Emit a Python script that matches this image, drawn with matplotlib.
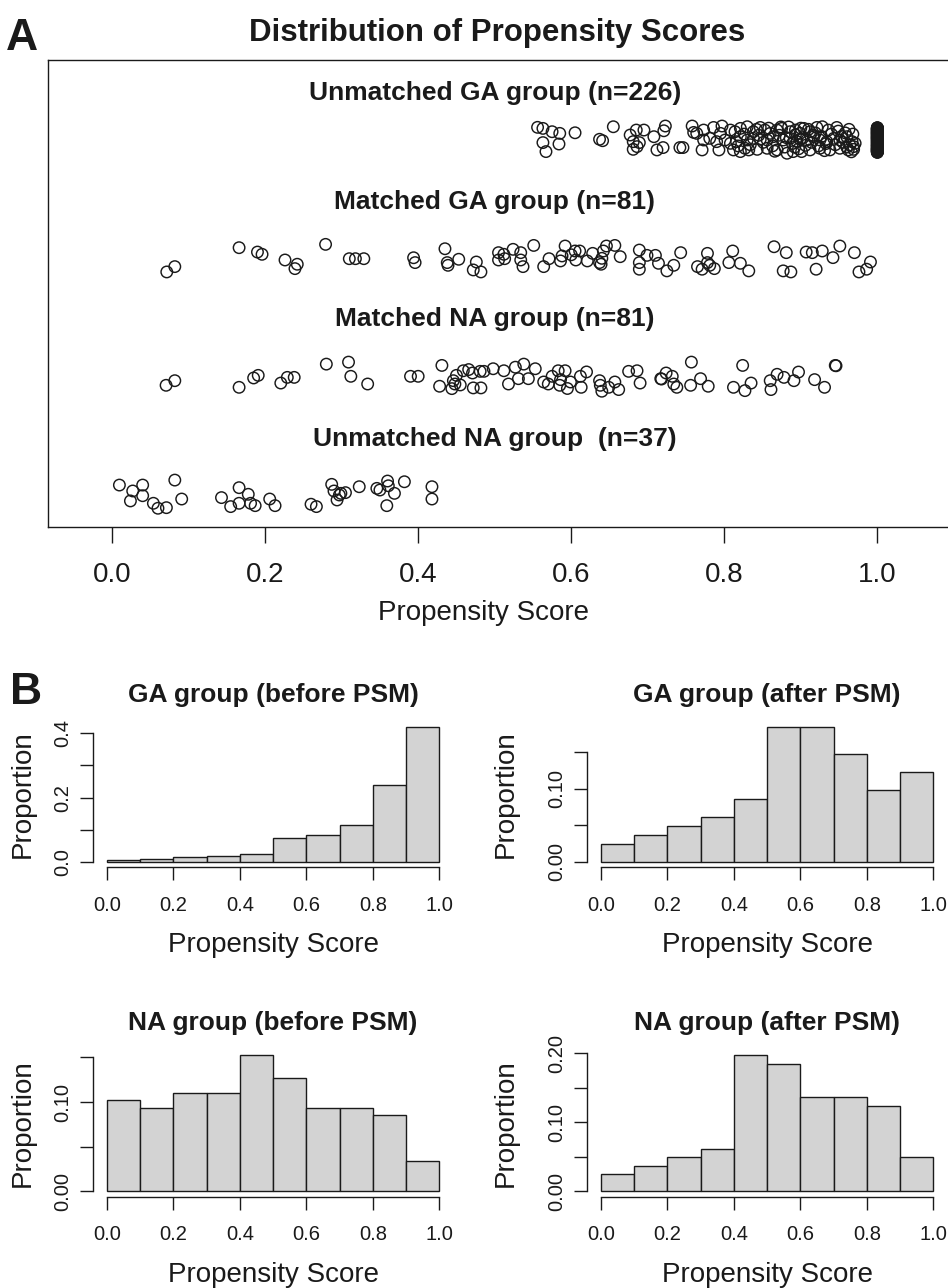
import matplotlib.pyplot as plt
import numpy as np

plt.rcParams['font.family'] = ['Liberation Sans', 'DejaVu Sans']

# ---- panel A: jittered propensity scores (x = score, jit = vertical jitter) ----
ga_unm_x = [0.556, 0.563, 0.575, 0.585, 0.605, 0.563, 0.584, 0.567, 0.637, 0.641,
            0.655, 0.677, 0.685, 0.695, 0.681, 0.686, 0.689, 0.681, 0.708, 0.723,
            0.721, 0.712, 0.720, 0.742, 0.746, 0.758, 0.760, 0.764, 0.773, 0.786,
            0.797, 0.795, 0.771, 0.793, 0.773, 0.781, 0.790, 0.801, 0.808, 0.816,
            0.808, 0.814, 0.821, 0.830, 0.838, 0.847, 0.853, 0.860, 0.869, 0.875,
            0.886, 0.893, 0.899, 0.904, 0.912, 0.921, 0.928, 0.936, 0.947, 0.960,
            0.967, 0.969, 0.812, 0.821, 0.832, 0.843, 0.856, 0.869, 0.882, 0.890,
            0.901, 0.912, 0.925, 0.938, 0.951, 0.962, 0.821, 0.830, 0.838, 0.847,
            0.856, 0.864, 0.877, 0.886, 0.895, 0.899, 0.908, 0.917, 0.925, 0.934,
            0.943, 0.951, 0.964, 0.969, 0.971, 0.826, 0.834, 0.842, 0.851, 0.858,
            0.863, 0.872, 0.879, 0.884, 0.889, 0.893, 0.897, 0.903, 0.906, 0.910,
            0.914, 0.919, 0.923, 0.927, 0.931, 0.940, 0.945, 0.949, 0.955, 0.958,
            0.963, 0.966, 0.818, 0.827, 0.845, 0.866, 0.874, 0.881, 0.892, 0.900,
            0.916, 0.933, 0.953, 0.960, 0.968]
ga_unm_jit = [0.107, 0.098, 0.070, 0.056, 0.061, -0.022, -0.034, -0.098, 0.006, -0.006,
              0.112, 0.042, 0.084, 0.084, -0.014, -0.056, -0.022, -0.079, 0.028, 0.118,
              0.078, -0.084, -0.064, -0.064, -0.064, 0.118, 0.064, 0.056, 0.084, 0.106,
              0.118, 0.056, -0.084, -0.084, 0.000, 0.014, -0.014, 0.000, -0.028, -0.014,
              0.084, 0.070, 0.098, 0.112, 0.070, 0.106, 0.084, 0.056, 0.084, 0.098,
              0.070, 0.084, 0.056, 0.098, 0.070, 0.106, 0.112, 0.084, 0.106, 0.028,
              -0.014, -0.056, -0.084, -0.098, -0.084, -0.079, -0.070, -0.084, -0.112, -0.098,
              -0.098, -0.084, -0.070, -0.084, -0.070, -0.084, 0.028, 0.000, 0.014, 0.006,
              0.000, 0.028, 0.000, 0.014, -0.014, 0.006, 0.000, 0.028, 0.000, -0.014,
              0.014, 0.000, -0.042, -0.079, -0.028, 0.050, -0.040, 0.090, -0.020, 0.100,
              -0.050, 0.040, -0.060, 0.110, -0.030, 0.045, -0.075, 0.020, -0.045, 0.090,
              -0.020, 0.060, -0.050, 0.030, -0.090, 0.050, -0.040, 0.075, -0.020, 0.060,
              0.090, -0.100, -0.050, -0.070, 0.040, -0.095, 0.110, 0.020, -0.060, 0.100,
              0.040, -0.030, 0.030, -0.060, 0.050]
# unmatched GA units with a score of 1.0 (the solid bar)
ga_one_jit = [0.102, -0.087, 0.045, -0.012, 0.071, -0.064, 0.018, -0.098, 0.089, -0.031,
              0.056, -0.076, 0.004, 0.095, -0.049, 0.033, -0.105, 0.066, -0.021, 0.081,
              -0.058, 0.012, -0.092, 0.047, -0.003, 0.099, -0.069, 0.025, -0.040, 0.076,
              -0.083, 0.039, -0.016, 0.061, -0.101, 0.008, 0.087, -0.053, 0.029, -0.074,
              0.052, -0.027, 0.093, -0.095, 0.015, -0.045, 0.068, -0.008, 0.104, -0.061,
              0.036, -0.080, 0.021, -0.035, 0.079, -0.089, 0.042, -0.019, 0.058, -0.102,
              0.001, 0.084, -0.050, 0.031, -0.071, 0.049, -0.024, 0.097, -0.093, 0.011,
              -0.042, 0.073, -0.006, 0.091, -0.066, 0.027, -0.078, 0.063, -0.029, 0.054,
              -0.085, 0.006, -0.038, 0.082, -0.097, 0.040, -0.014, 0.070, -0.056, 0.023,
              -0.072, 0.101, -0.047, 0.017, -0.081, 0.059, -0.002]

ga_mat_x = [0.0715, 0.082, 0.166, 0.190, 0.196, 0.226, 0.242, 0.239, 0.279, 0.310,
            0.318, 0.329, 0.394, 0.396, 0.435, 0.438, 0.439, 0.453, 0.472, 0.482,
            0.476, 0.505, 0.505, 0.512, 0.513, 0.524, 0.534, 0.534, 0.537, 0.551,
            0.564, 0.571, 0.586, 0.588, 0.592, 0.605, 0.606, 0.611, 0.621, 0.628,
            0.637, 0.639, 0.642, 0.646, 0.657, 0.664, 0.689, 0.689, 0.689, 0.699,
            0.710, 0.714, 0.725, 0.734, 0.743, 0.765, 0.771, 0.778, 0.778, 0.781,
            0.787, 0.806, 0.811, 0.821, 0.832, 0.865, 0.881, 0.877, 0.887, 0.907,
            0.915, 0.920, 0.928, 0.942, 0.951, 0.970, 0.976, 0.986, 0.991, 0.640,
            0.600]
ga_mat_jit = [-0.115, -0.070, 0.090, 0.053, 0.034, -0.014, -0.050, -0.087, 0.118, -0.003,
              -0.003, -0.003, 0.005, -0.036, 0.081, -0.036, -0.059, -0.008, -0.098, -0.115,
              -0.031, 0.048, -0.014, 0.034, -0.003, 0.076, 0.048, -0.014, -0.070, 0.109,
              -0.070, -0.003, -0.022, 0.020, 0.104, 0.062, -0.014, 0.062, -0.022, 0.042,
              -0.036, -0.050, 0.062, 0.104, 0.109, 0.014, 0.070, -0.036, -0.092, 0.025,
              0.025, -0.042, -0.106, -0.059, 0.048, -0.070, -0.092, 0.042, -0.036, -0.059,
              -0.087, -0.036, 0.062, -0.042, -0.106, 0.098, 0.048, -0.106, -0.115, 0.053,
              0.048, -0.092, 0.062, 0.006, 0.104, 0.048, -0.115, -0.092, -0.031, 0.000,
              0.030]

na_mat_x = [0.0706, 0.082, 0.166, 0.185, 0.191, 0.2205, 0.229, 0.238, 0.280, 0.309,
            0.312, 0.334, 0.390, 0.400, 0.431, 0.428, 0.444, 0.446, 0.450, 0.448,
            0.459, 0.471, 0.472, 0.482, 0.481, 0.486, 0.498, 0.512, 0.518, 0.531,
            0.538, 0.544, 0.553, 0.564, 0.570, 0.575, 0.583, 0.586, 0.585, 0.592,
            0.599, 0.612, 0.613, 0.637, 0.638, 0.640, 0.649, 0.657, 0.662, 0.675,
            0.686, 0.690, 0.717, 0.718, 0.724, 0.732, 0.734, 0.738, 0.757, 0.756,
            0.769, 0.779, 0.812, 0.824, 0.827, 0.835, 0.860, 0.861, 0.869, 0.878,
            0.891, 0.897, 0.918, 0.931, 0.945, 0.946, 0.455, 0.466, 0.527, 0.620,
            0.595]
na_mat_jit = [-0.073, -0.034, -0.090, -0.011, 0.011, -0.054, -0.006, -0.006, 0.106, 0.123,
              0.003, -0.062, 0.003, 0.003, 0.095, -0.081, -0.101, -0.034, 0.011, -0.062,
              0.050, 0.031, -0.095, -0.095, 0.045, 0.045, 0.067, 0.050, -0.062, -0.017,
              0.106, -0.017, 0.067, -0.045, -0.062, 0.003, 0.050, -0.025, -0.073, 0.050,
              -0.045, 0.003, -0.090, -0.034, -0.073, -0.123, -0.090, -0.045, -0.109, 0.045,
              0.050, -0.054, -0.017, -0.020, 0.031, 0.003, -0.062, -0.090, 0.123, -0.073,
              -0.017, -0.081, -0.090, 0.095, -0.118, -0.054, -0.034, -0.109, 0.020, -0.006,
              -0.034, 0.039, -0.025, -0.090, 0.095, 0.092, -0.070, 0.060, 0.080, 0.040,
              -0.100]

na_unm_x = [0.0096, 0.027, 0.024, 0.040, 0.040, 0.054, 0.060, 0.071, 0.082, 0.091,
            0.143, 0.155, 0.166, 0.166, 0.178, 0.181, 0.187, 0.206, 0.213, 0.260,
            0.267, 0.287, 0.290, 0.294, 0.297, 0.299, 0.323, 0.346, 0.350, 0.360,
            0.361, 0.369, 0.359, 0.382, 0.418, 0.418, 0.305]
na_unm_jit = [0.084, 0.034, -0.050, 0.084, -0.006, -0.070, -0.112, -0.107, 0.126, -0.034,
              -0.022, -0.098, 0.062, -0.070, 0.006, -0.070, -0.090, -0.034, -0.090, -0.078,
              -0.098, 0.090, 0.034, -0.042, 0.000, 0.014, 0.070, 0.056, 0.042, 0.118,
              0.078, 0.014, -0.090, 0.112, 0.070, -0.034, 0.020]

row_labels = ['Unmatched GA group (n=226)', 'Matched GA group (n=81)',
              'Matched NA group (n=81)', 'Unmatched NA group  (n=37)']

# ---- panel B: histogram proportions per 0.1 bin ----
bin_edges = [0.0, 0.1, 0.2, 0.3, 0.4, 0.5, 0.6, 0.7, 0.8, 0.9, 1.0]
ga_before = [0.007, 0.010, 0.015, 0.019, 0.026, 0.074, 0.083, 0.116, 0.240, 0.420]
ga_after = [0.025, 0.037, 0.049, 0.062, 0.086, 0.185, 0.185, 0.148, 0.099, 0.123]
na_before = [0.102, 0.093, 0.110, 0.110, 0.153, 0.127, 0.093, 0.093, 0.085, 0.034]
na_after = [0.025, 0.037, 0.049, 0.062, 0.198, 0.185, 0.136, 0.136, 0.123, 0.049]

W, H = 948, 1288
fig = plt.figure(figsize=(W / 100, H / 100), dpi=100)


def add_axes_px(left, top, right, bottom):
    return fig.add_axes([left / W, 1 - bottom / H, (right - left) / W, (bottom - top) / H])


ink = '#1a1a1a'

# ---------------- panel A ----------------
axA = add_axes_px(48, 60, 960, 527)
groups = [(ga_unm_x + [1.0] * len(ga_one_jit), ga_unm_jit + ga_one_jit, 4),
          (ga_mat_x, ga_mat_jit, 3),
          (na_mat_x, na_mat_jit, 2),
          (na_unm_x, na_unm_jit, 1)]
for xs, js, level in groups:
    axA.scatter(xs, np.array(js) + level, s=68, facecolors='none',
                edgecolors=ink, linewidths=1.05)
label_y = [4.395, 3.475, 2.49, 1.475]
for txt, ly in zip(row_labels, label_y):
    axA.text(0.5, ly, txt, ha='center', va='center', fontsize=19,
             fontweight='bold', color=ink)
axA.set_xlim(-0.0837, 1.108)
axA.set_ylim(0.7296, 4.676)
axA.set_yticks([])
axA.set_xticks(np.arange(0, 1.01, 0.2))
axA.set_xticklabels(['%.1f' % v for v in np.arange(0, 1.01, 0.2)])
axA.tick_params(axis='x', length=11.5, width=1.0, pad=14, labelsize=20,
                colors=ink)
for sp in axA.spines.values():
    sp.set_linewidth(1.0)
    sp.set_color(ink)
axA.set_xlabel('Propensity Score', fontsize=20, color=ink)
axA.xaxis.label.set_va('center')
axA.xaxis.set_label_coords(0.477, -0.185)
axA.text(0.492, (527 - 33) / 467, 'Distribution of Propensity Scores',
         transform=axA.transAxes, fontsize=22.5, fontweight='bold',
         color=ink, ha='center', va='center')

fig.text(6 / W, 1 - 50 / H, 'A', fontsize=32, fontweight='bold',
         color=ink, va='baseline')
fig.text(10 / W, 1 - 704 / H, 'B', fontsize=32, fontweight='bold',
         color=ink, va='baseline')

# ---------------- panel B ----------------
hists = [
    (ga_before, 'GA group (before PSM)', (93.4, 721.3, 452.7, 867.4),
     [0, 0.1, 0.2, 0.3, 0.4], ['0.0', '', '0.2', '', '0.4'], -0.196),
    (ga_after, 'GA group (after PSM)', (587.4, 721.3, 946.7, 867.4),
     [0, 0.05, 0.10, 0.15], ['0.00', '', '0.10', ''], -0.2265),
    (na_before, 'NA group (before PSM)', (93.4, 1049.3, 452.7, 1196.7),
     [0, 0.05, 0.10, 0.15], ['0.00', '', '0.10', ''], -0.196),
    (na_after, 'NA group (after PSM)', (587.4, 1049.3, 946.7, 1196.7),
     [0, 0.05, 0.10, 0.15, 0.20], ['0.00', '', '0.10', '', '0.20'], -0.2265),
]
for props, title, box, yt, ytl, ylab_x in hists:
    ax = add_axes_px(*box)
    ax.bar(bin_edges[:-1], props, width=0.1, align='edge', color='#d3d3d3',
           edgecolor=ink, linewidth=1.0)
    top = max(props)
    ax.set_xlim(-0.04, 1.04)
    ax.set_ylim(-0.04 * top, 1.04 * top)
    ax.set_xticks(np.arange(0, 1.01, 0.2))
    ax.set_xticklabels(['%.1f' % v for v in np.arange(0, 1.01, 0.2)])
    ax.set_yticks(yt)
    ax.set_yticklabels(ytl)
    for side in ['top', 'right']:
        ax.spines[side].set_visible(False)
    ax.spines['left'].set_bounds(0, yt[-1])
    ax.spines['bottom'].set_bounds(0, 1)
    for side in ['left', 'bottom']:
        ax.spines[side].set_linewidth(1.0)
        ax.spines[side].set_color(ink)
    ax.tick_params(axis='both', length=9.4, width=1.0, labelsize=14.5,
                   colors=ink)
    ax.tick_params(axis='x', pad=11)
    ax.tick_params(axis='y', pad=6, labelrotation=90)
    for lab in ax.get_yticklabels():
        lab.set_va('center')
    ax.set_title(title, fontsize=19, fontweight='bold', color=ink, pad=14)
    ax.set_xlabel('Propensity Score', fontsize=20, color=ink)
    ax.xaxis.label.set_va('center')
    ax.xaxis.set_label_coords(0.5, -0.53)
    ax.set_ylabel('Proportion', fontsize=20, color=ink)
    ax.yaxis.label.set_va('center')
    ax.yaxis.set_label_coords(ylab_x, 0.5)

fig.savefig('out.png', dpi=100)
